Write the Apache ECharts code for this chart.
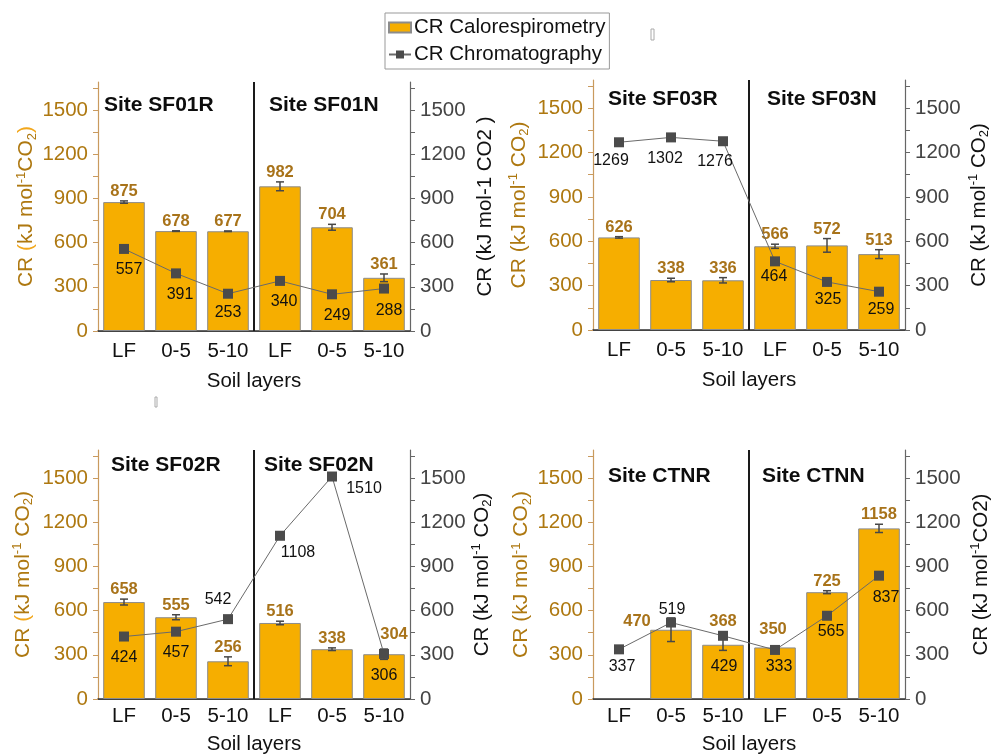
<!DOCTYPE html>
<html>
<head>
<meta charset="utf-8">
<script src="https://cdn.jsdelivr.net/npm/echarts@6/dist/echarts.min.js"></script>
<style>
  html, body { margin: 0; padding: 0; background: #fff; }
  #chart { width: 992px; height: 754px; }
</style>
</head>
<body>
<div id="chart"></div>
<script>
// Soil layer categories shared by every panel (R site, then N site)
const categories = ['LF', '0-5', '5-10', 'LF', '0-5', '5-10'];
const yTicks = [0, 300, 600, 900, 1200, 1500];

// Site SF01
const sf01Calo = [875, 678, 677, 982, 704, 361];
const sf01CaloErr = [8, 2, 2, 30, 20, 26];
const sf01Chrom = [557, 391, 253, 340, 249, 288];

// Site SF03
const sf03Calo = [626, 338, 336, 566, 572, 513];
const sf03CaloErr = [5, 12, 18, 14, 46, 30];
const sf03Chrom = [1269, 1302, 1276, 464, 325, 259];

// Site SF02
const sf02Calo = [658, 555, 256, 516, 338, 304];
const sf02CaloErr = [20, 17, 30, 12, 9, 35];
const sf02Chrom = [424, 457, 542, 1108, 1510, 306];

// Site CTN (no LF bar for CTNR)
const ctnCalo = [null, 470, 368, 350, 725, 1158];
const ctnCaloErr = [null, 80, 38, 10, 10, 28];
const ctnChrom = [337, 519, 429, 333, 565, 837];

const siteNames = [
  ['Site SF01R', 'Site SF01N'],
  ['Site SF03R', 'Site SF03N'],
  ['Site SF02R', 'Site SF02N'],
  ['Site CTNR', 'Site CTNN']
];

const FONT = '"Liberation Sans", Arial, sans-serif';
const BROWN = '#AE7810';
const ORANGE_P = '#F2A71C';
const BAR = '#F6AE00';

// Panel layout: grid boxes, title anchors, label nudges, axis-name gaps
const panels = [
  {
    calo: sf01Calo, err: sf01CaloErr, chrom: sf01Chrom, names: siteNames[0],
    grid: { left: 98, top: 82, width: 312, height: 249 },
    titles: [[104, 107], [269, 107]],
    chromOff: [[5, 21], [4, 21], [0, 19], [4, 21], [5, 21], [5, 22]],
    caloOff: [[0, 0], [0, 0], [0, 0], [0, 0], [0, 0], [0, 0]],
    leftName: '{b|CR }{p|(}{b|kJ mol}{sup|-1}{b|CO}{sub|2}{p|)}',
    rightName: '{k|CR (kJ mol-1 CO2 )}',
    gapL: 57, gapR: 63, xLabelMargin: 10, xNameGap: 40
  },
  {
    calo: sf03Calo, err: sf03CaloErr, chrom: sf03Chrom, names: siteNames[1],
    grid: { left: 593, top: 80, width: 312, height: 250 },
    titles: [[608, 101], [767, 101]],
    chromOff: [[-8, 18], [-6, 21], [-8, 20], [-1, 15], [1, 18], [2, 18]],
    caloOff: [[0, 0], [0, 0], [0, 0], [0, 0], [0, 0], [0, 0]],
    leftName: '{b|CR (kJ mol}{sup|-1}{b| CO}{sub|2}{b|)}',
    rightName: '{k|CR (kJ mol}{ksup|-1}{k| CO}{ksub|2}{k|)}',
    gapL: 62, gapR: 62, xLabelMargin: 10, xNameGap: 40
  },
  {
    calo: sf02Calo, err: sf02CaloErr, chrom: sf02Chrom, names: siteNames[2],
    grid: { left: 98, top: 450, width: 312, height: 249 },
    titles: [[111, 467], [264, 467]],
    chromOff: [[0, 21], [0, 21], [-10, -20], [18, 17], [32, 12], [0, 22]],
    caloOff: [[0, 0], [0, 0], [0, 0], [0, 0], [0, 0], [10, -5]],
    leftName: '{b|CR }{p|(}{b|kJ mol}{sup|-1}{b| CO}{sub|2}{b|)}',
    rightName: '{k|CR (kJ mol}{ksup|-1}{k| CO}{ksub|2}{k|)}',
    gapL: 63, gapR: 60, xLabelMargin: 7, xNameGap: 35
  },
  {
    calo: ctnCalo, err: ctnCaloErr, chrom: ctnChrom, names: siteNames[3],
    grid: { left: 593, top: 450, width: 312, height: 249 },
    titles: [[608, 478], [762, 478]],
    chromOff: [[3, 17], [1, -13], [1, 31], [4, 17], [4, 16], [7, 22]],
    caloOff: [[0, 0], [-34, 13], [0, -8], [-2, -7], [0, 0], [0, 0]],
    leftName: '{b|CR (kJ mol}{sup|-1}{b| CO}{sub|2}{b|)}',
    rightName: '{k|CR (kJ mol}{ksup|-1}{k|CO2)}',
    gapL: 53, gapR: 64, xLabelMargin: 7, xNameGap: 35
  }
];

const nameRich = {
  b: { fontSize: 21, color: BROWN, fontFamily: FONT, lineHeight: 24 },
  p: { fontSize: 21, color: ORANGE_P, fontFamily: FONT, lineHeight: 24 },
  sup: { fontSize: 13, color: BROWN, fontFamily: FONT, verticalAlign: 'top', lineHeight: 14 },
  sub: { fontSize: 13, color: BROWN, fontFamily: FONT, verticalAlign: 'bottom', lineHeight: 14 },
  k: { fontSize: 20.5, color: '#111', fontFamily: FONT, lineHeight: 24 },
  ksup: { fontSize: 13, color: '#111', fontFamily: FONT, verticalAlign: 'top', lineHeight: 14 },
  ksub: { fontSize: 13, color: '#111', fontFamily: FONT, verticalAlign: 'bottom', lineHeight: 14 }
};

const Y_MAX = 1690;

function errorBars(offsets) {
  return function (params, api) {
    const i = api.value(0), v = api.value(1), e = api.value(2);
    const top = api.coord([i, v + e]);
    const bot = api.coord([i, v - e]);
    const cap = 4;
    const off = offsets[i] || [0, 0];
    return {
      type: 'group',
      children: [
        { type: 'line', shape: { x1: top[0], y1: top[1], x2: bot[0], y2: bot[1] }, style: { stroke: '#474747', lineWidth: 1.5 } },
        { type: 'line', shape: { x1: top[0] - cap, y1: top[1], x2: top[0] + cap, y2: top[1] }, style: { stroke: '#474747', lineWidth: 1.5 } },
        { type: 'line', shape: { x1: bot[0] - cap, y1: bot[1], x2: bot[0] + cap, y2: bot[1] }, style: { stroke: '#474747', lineWidth: 1.5 } },
        {
          type: 'text', x: top[0] + off[0], y: top[1] - 1 + off[1],
          style: { text: String(v), font: 'bold 16.5px ' + FONT, fill: '#A8731A', align: 'center', verticalAlign: 'bottom' }
        }
      ]
    };
  };
}

function divider(params, api) {
  const cs = params.coordSys;
  const bw = api.size([1, 0])[0];
  const x = api.coord([api.value(0), 0])[0] + bw / 2;
  return {
    type: 'line',
    shape: { x1: x, y1: cs.y, x2: x, y2: cs.y + cs.height },
    style: { stroke: '#1a1a1a', lineWidth: 2 }
  };
}

const grid = [], xAxis = [], yAxis = [], series = [], graphic = [];

panels.forEach(function (p, k) {
  grid.push(Object.assign({ containLabel: false, outerBoundsMode: 'none' }, p.grid));

  // bottom category axis
  xAxis.push({
    type: 'category', gridIndex: k, position: 'bottom', data: categories,
    axisLine: { lineStyle: { color: '#777', width: 1 } },
    axisTick: { alignWithLabel: true, length: 5, lineStyle: { color: '#555' } },
    axisLabel: { fontSize: 20.5, color: '#111', fontFamily: FONT, margin: p.xLabelMargin, interval: 0 },
    name: 'Soil layers', nameLocation: 'middle', nameGap: p.xNameGap,
    nameTextStyle: { fontSize: 20.5, color: '#111', fontFamily: FONT }
  });
  // top frame axis with inward ticks
  xAxis.push({
    type: 'category', gridIndex: k, position: 'top', data: categories,
    axisLine: { lineStyle: { color: '#333', width: 1.5 } },
    axisTick: { alignWithLabel: true, inside: true, length: 5, lineStyle: { color: '#333' } },
    axisLabel: { show: false }
  });

  yAxis.push({
    type: 'value', gridIndex: k, position: 'left', min: 0, max: Y_MAX, interval: 150,
    axisLine: { show: true, lineStyle: { color: '#C99A5E', width: 1.2 } },
    axisTick: { show: true, length: 5, lineStyle: { color: '#C99A5E' } },
    axisLabel: {
      fontSize: 20.5, color: BROWN, fontFamily: FONT, margin: 10, showMaxLabel: false,
      formatter: function (v) { return yTicks.indexOf(v) >= 0 ? String(v) : ''; }
    },
    splitLine: { show: false },
    name: p.leftName, nameLocation: 'middle', nameGap: p.gapL,
    nameTextStyle: { rich: nameRich }
  });
  yAxis.push({
    type: 'value', gridIndex: k, position: 'right', min: 0, max: Y_MAX, interval: 150,
    axisLine: { show: true, lineStyle: { color: '#666', width: 1.2 } },
    axisTick: { show: true, length: 5, lineStyle: { color: '#666' } },
    axisLabel: {
      fontSize: 20.5, color: '#444', fontFamily: FONT, margin: 10, showMaxLabel: false,
      formatter: function (v) { return yTicks.indexOf(v) >= 0 ? String(v) : ''; }
    },
    splitLine: { show: false },
    name: p.rightName, nameLocation: 'middle', nameGap: p.gapR, nameRotate: 90,
    nameTextStyle: { rich: nameRich }
  });

  series.push({
    name: 'CR Calorespirometry', type: 'bar', xAxisIndex: 2 * k, yAxisIndex: 2 * k,
    data: p.calo, barWidth: '80%',
    itemStyle: { color: BAR, borderColor: '#8c8c8c', borderWidth: 1 },
    z: 2
  });

  series.push({
    name: 'CR Calorespirometry err', type: 'custom', xAxisIndex: 2 * k, yAxisIndex: 2 * k,
    renderItem: errorBars(p.caloOff),
    data: p.calo.map(function (v, i) { return v == null ? null : [i, v, p.err[i]]; }).filter(function (d) { return d; }),
    encode: { x: 0, y: 1 }, z: 3, silent: true
  });

  series.push({
    name: 'divider', type: 'custom', xAxisIndex: 2 * k, yAxisIndex: 2 * k,
    renderItem: divider, data: [[2, 0]], encode: { x: 0, y: 1 }, z: 5, silent: true
  });

  series.push({
    name: 'CR Chromatography', type: 'line', xAxisIndex: 2 * k, yAxisIndex: 2 * k + 1,
    data: p.chrom.map(function (v, i) { return { value: v, label: { offset: p.chromOff[i] } }; }),
    symbol: 'rect', symbolSize: 10,
    itemStyle: { color: '#4B4B4B' },
    lineStyle: { color: '#6a6a6a', width: 1 },
    label: { show: true, position: 'inside', color: '#111', fontSize: 16, fontFamily: FONT, formatter: '{c}' },
    z: 6
  });

  p.names.forEach(function (t, j) {
    graphic.push({
      type: 'text', left: p.titles[j][0], top: p.titles[j][1] - 12,
      style: { text: t, font: 'bold 21px ' + FONT, fill: '#0d0d0d' }
    });
  });
});

// small stray glyph boxes
graphic.push({ type: 'rect', shape: { x: 651, y: 29, width: 3, height: 11 }, style: { fill: 'none', stroke: '#aaa', lineWidth: 1 } });
graphic.push({ type: 'rect', shape: { x: 155, y: 397, width: 2, height: 10 }, style: { fill: 'none', stroke: '#aaa', lineWidth: 1 } });

const chart = echarts.init(document.getElementById('chart'), null, { renderer: 'canvas' });
chart.setOption({
  backgroundColor: '#fff',
  animation: false,
  legend: {
    data: [{ name: 'CR Calorespirometry', icon: 'rect' }, { name: 'CR Chromatography' }],
    orient: 'vertical', left: 385, top: 13,
    borderColor: '#999', borderWidth: 1, padding: [4, 4, 4, 3], itemGap: 6,
    itemWidth: 22, itemHeight: 10,
    textStyle: { fontSize: 20.5, color: '#111', fontFamily: FONT, padding: [0, 0, 0, -2] }
  },
  grid: grid, xAxis: xAxis, yAxis: yAxis, series: series, graphic: graphic
});
</script>
</body>
</html>
